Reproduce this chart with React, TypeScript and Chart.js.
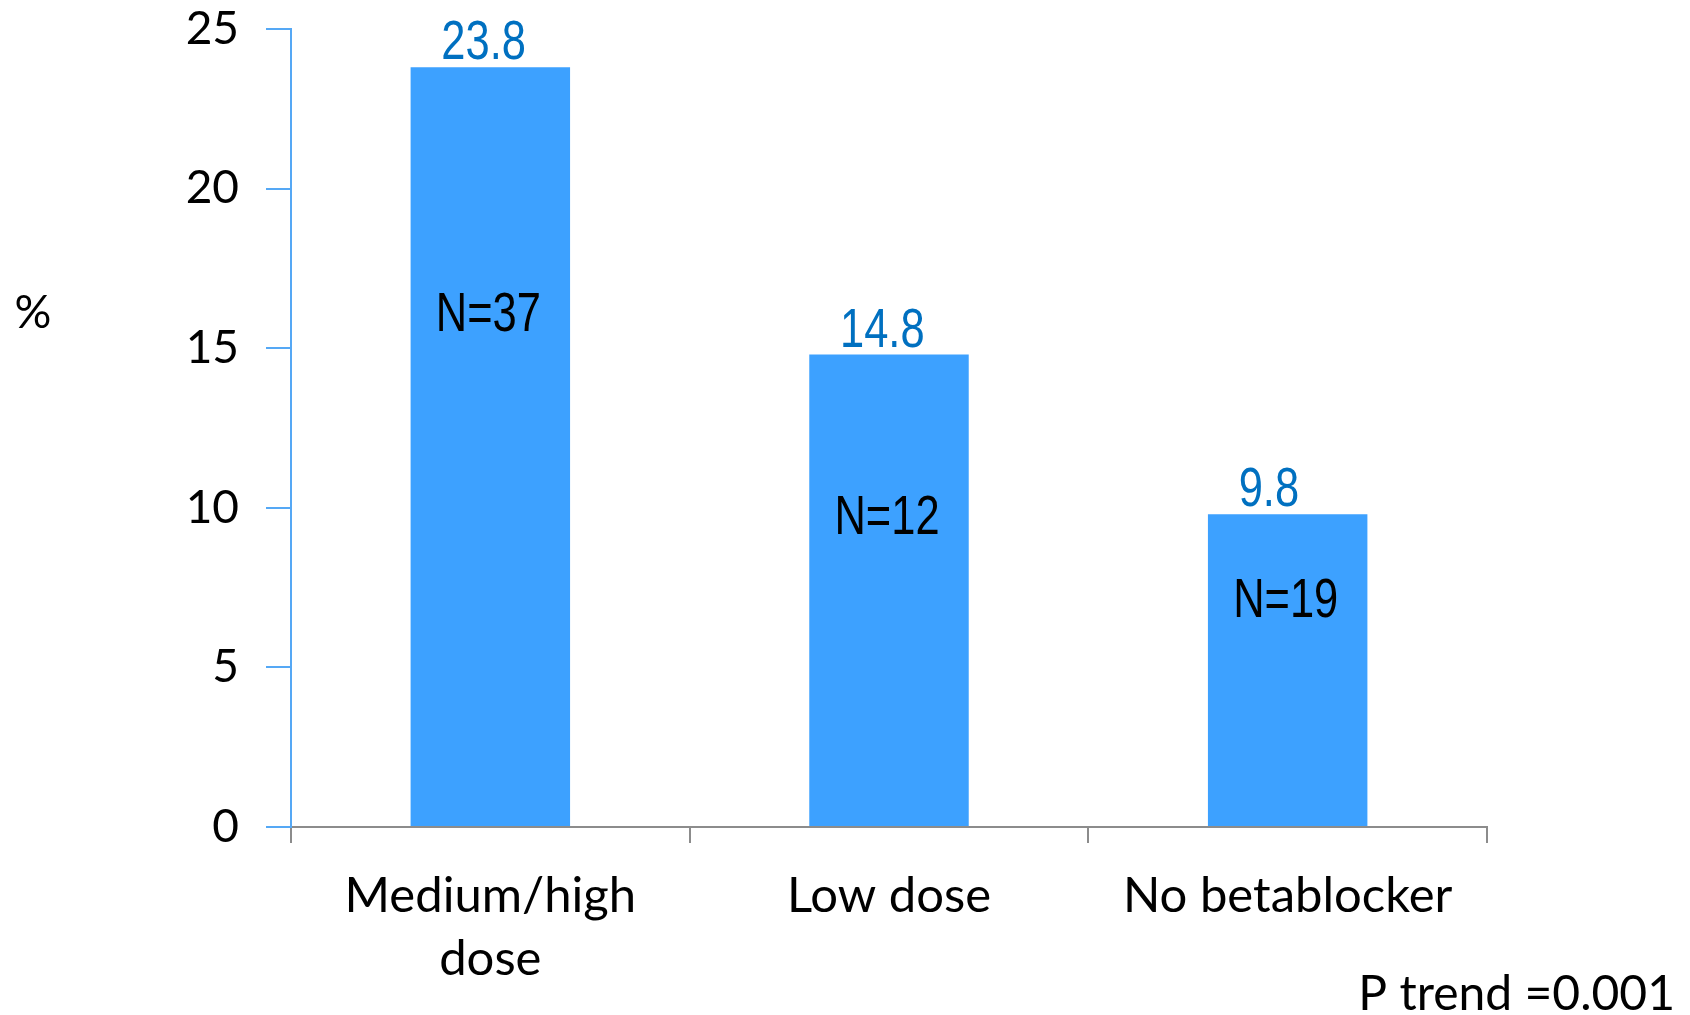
import React, { useEffect, useRef } from "react";
import { Chart, registerables } from "chart.js";

Chart.register(...registerables);

const categories: (string | string[])[] = [["Medium/high", "dose"], "Low dose", "No betablocker"];
const percentValues = [23.8, 14.8, 9.8];
const nLabels = ["N=37", "N=12", "N=19"];
const nLabelLevels = [16.0, 9.65, 7.05];
const yTickMin = 0;
const yTickMax = 25;
const yTickStep = 5;
const yAxisTitle = "%";
const footnote = "P trend =0.001";

const BAR_COLOR = "#3DA1FF";
const AXIS_BLUE = "#55A8F5";
const AXIS_GRAY = "#8C8C8C";
const VALUE_COLOR = "#0070C0";
const SANS = "Lato, 'Open Sans', sans-serif";
const NARROW = "'Liberation Sans', Arial, sans-serif";

function narrowText(ctx: CanvasRenderingContext2D, text: string, x: number, y: number, align: CanvasTextAlign, baseline: CanvasTextBaseline, color: string) {
  ctx.save();
  ctx.translate(x, y);
  ctx.scale(0.79, 1);
  ctx.font = `55px ${NARROW}`;
  ctx.textAlign = align;
  ctx.textBaseline = baseline;
  ctx.fillStyle = color;
  ctx.fillText(text, 0, 0);
  ctx.restore();
}

const annotationsPlugin = {
  id: "annotations",
  afterDatasetsDraw(chart: any) {
    const ctx = chart.ctx;
    const meta = chart.getDatasetMeta(0);
    const yScale = chart.scales.y;
    ctx.save();
    meta.data.forEach((bar: any, i: number) => {
      narrowText(ctx, String(percentValues[i]), bar.x - 49, bar.y - 8, "left", "alphabetic", VALUE_COLOR);
      narrowText(ctx, nLabels[i], bar.x - 2, yScale.getPixelForValue(nLabelLevels[i]), "center", "middle", "#000");
    });
    ctx.font = `46px ${SANS}`;
    ctx.fillStyle = "#000";
    ctx.textAlign = "center";
    ctx.textBaseline = "middle";
    ctx.fillText(yAxisTitle, 33, 313);
    ctx.font = `48px ${SANS}`;
    ctx.textAlign = "right";
    ctx.textBaseline = "alphabetic";
    ctx.fillText(footnote, 1675, 1010);
    ctx.restore();
  },
};

export default function App() {
  const canvasRef = useRef<HTMLCanvasElement | null>(null);

  useEffect(() => {
    document.body.style.margin = "0";
    const canvas = canvasRef.current;
    if (!canvas) return;
    const chart = new Chart(canvas, {
      type: "bar",
      data: {
        labels: categories,
        datasets: [
          {
            data: percentValues,
            backgroundColor: BAR_COLOR,
            borderWidth: 0,
            categoryPercentage: 1,
            barPercentage: 0.4,
          },
        ],
      },
      options: {
        responsive: false,
        animation: false,
        devicePixelRatio: 1,
        layout: { padding: { left: 0, right: 203, top: 29, bottom: 0 } },
        plugins: {
          legend: { display: false },
          tooltip: { enabled: false },
        },
        scales: {
          x: {
            grid: {
              offset: true,
              drawOnChartArea: false,
              drawTicks: true,
              tickLength: 16,
              color: AXIS_GRAY,
              lineWidth: 2,
            },
            border: { display: true, color: AXIS_GRAY, width: 2 },
            ticks: {
              color: "#000",
              font: { family: SANS, size: 49, lineHeight: 1.28 },
              padding: 22,
              maxRotation: 0,
              autoSkip: false,
            },
            afterFit(scale: any) {
              scale.height = 188;
              scale.paddingLeft = 0;
              scale.paddingRight = 0;
            },
          },
          y: {
            min: yTickMin,
            max: yTickMax,
            grid: {
              drawOnChartArea: false,
              drawTicks: true,
              tickLength: 25,
              color: AXIS_BLUE,
              lineWidth: 2,
            },
            border: { display: true, color: AXIS_BLUE, width: 2 },
            ticks: {
              stepSize: yTickStep,
              color: "#000",
              font: { family: SANS, size: 46 },
              padding: 27,
            },
            afterFit(scale: any) {
              scale.width = 291;
              scale.paddingTop = 0;
              scale.paddingBottom = 0;
            },
          },
        },
      },
      plugins: [annotationsPlugin],
    });
    return () => chart.destroy();
  }, []);

  return (
    <div style={{ width: 1690, height: 1015, background: "#fff" }}>
      <canvas ref={canvasRef} width={1690} height={1015} style={{ display: "block" }} />
    </div>
  );
}
